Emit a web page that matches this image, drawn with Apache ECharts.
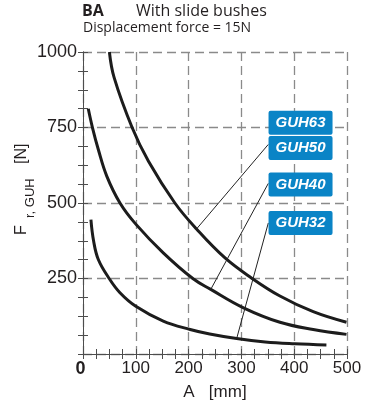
<!DOCTYPE html>
<html>
<head>
<meta charset="utf-8">
<script src="https://cdn.jsdelivr.net/npm/echarts@6/dist/echarts.min.js"></script>
<style>
  html, body { margin: 0; padding: 0; background: #fff; }
  #chart { width: 369px; height: 409px; }
</style>
</head>
<body>
<div id="chart"></div>
<script type="text/javascript">
    // curves: [A mm, F N]
    var guh63 = [[50,1000],[59,915],[93,750],[124,638],[174,500],[215,414],[269,318],[319,252],[373,192],[436,140],[499,105]];
    var guh50 = [[10,812],[18,749],[29,677],[45,589],[70,500],[100,430],[152,335],[208,250],[242,214],[304,153],[373,105],[436,81],[499,65]];
    var guh32 = [[15,445],[20,375],[29,313],[50,249],[70,203],[100,158],[152,109],[203,81],[240,66],[291,51],[345,40],[401,34],[461,30]];

    // leader lines from label boxes to curves
    var lead50 = [[351,694],[215,414]];
    var lead40 = [[351,565],[242,214]];
    var lead32 = [[351,434],[291,51]];

    // label boxes
    var labelNames = ['GUH63', 'GUH50', 'GUH40', 'GUH32'];
    var labelX = [412, 412, 412, 412];
    var labelY = [766, 682, 561, 434];

    var xTicks = [0, 100, 200, 300, 400, 500];
    var yTicks = [250, 500, 750, 1000];

    var myChart = echarts.init(document.getElementById('chart'), null, {renderer: 'canvas'});

    var axisFont = 'Liberation Sans, Arial, sans-serif';
    var frame = {show: true, lineStyle: {color: '#4d4d4d', width: 1}};
    var ticks = {show: true, inside: true, length: 5, lineStyle: {color: '#4d4d4d', width: 1}};
    var minor = {show: true, splitNumber: 4, length: 5, lineStyle: {color: '#4d4d4d', width: 1}};

    var labelData = labelNames.map(function (n, i) {
        return {name: n, value: [labelX[i], labelY[i]]};
    });

    var option = {
        animation: false,
        grid: {left: 83, right: 22, top: 52, bottom: 55},
        graphic: [
            {type: 'text', left: 82, top: 3, style: {text: 'BA', font: 'bold 16px "Open Sans"', fill: '#231f20'}},
            {type: 'text', left: 136, top: 3, style: {text: 'With slide bushes', font: '16px "Open Sans"', fill: '#231f20'}},
            {type: 'text', left: 83, top: 21, style: {text: 'Displacement force = 15N', font: '14px "Open Sans"', fill: '#231f20'}},
            {
                type: 'group', x: 0, y: 236, rotation: Math.PI / 2,
                children: [
                    {type: 'text', style: {x: 1, y: 22, text: 'F', font: '16px ' + axisFont, fill: '#231f20', verticalAlign: 'middle'}},
                    {type: 'text', style: {x: 18, y: 30, text: 'r, GUH', font: '13px ' + axisFont, fill: '#231f20', verticalAlign: 'middle'}},
                    {type: 'text', style: {x: 72, y: 22, text: '[N]', font: '16px ' + axisFont, fill: '#231f20', verticalAlign: 'middle'}}
                ]
            }
        ],
        xAxis: [
            {
                type: 'value', position: 'bottom', min: 0, max: 500, interval: 100,
                name: 'A   [mm]', nameLocation: 'middle', nameGap: 30,
                nameTextStyle: {fontFamily: axisFont, fontSize: 17, color: '#231f20'},
                axisLine: frame, axisTick: ticks, minorTick: minor,
                axisLabel: {
                    fontFamily: axisFont, fontSize: 17, color: '#231f20', margin: 6,
                    formatter: function (v) {
                        return xTicks.indexOf(v) === 0 ? '{z|0}' : String(v);
                    },
                    rich: {z: {fontFamily: axisFont, fontSize: 18, fontWeight: 'bold', color: '#231f20', padding: [0, 5, 0, 0]}}
                },
                splitLine: {show: true, lineStyle: {color: '#8a8a8a', width: 1.3, type: [9, 5]}}
            },
            {
                type: 'value', position: 'top', min: 0, max: 500, interval: 100,
                axisLine: frame, axisTick: ticks, minorTick: minor,
                axisLabel: {show: false}, splitLine: {show: false}
            }
        ],
        yAxis: [
            {
                type: 'value', position: 'left', min: 0, max: 1000, interval: 250,
                axisLine: frame, axisTick: ticks, minorTick: minor,
                axisLabel: {
                    fontFamily: axisFont, fontSize: 18, color: '#231f20', margin: 6,
                    formatter: function (v) {
                        return yTicks.indexOf(v) >= 0 ? String(v) : '';
                    }
                },
                splitLine: {show: true, lineStyle: {color: '#8a8a8a', width: 1.3, type: [9, 5]}}
            },
            {
                type: 'value', position: 'right', min: 0, max: 1000, interval: 250,
                axisLine: frame, axisTick: ticks, minorTick: minor,
                axisLabel: {show: false}, splitLine: {show: false}
            }
        ],
        series: [
            {name: 'GUH63', type: 'line', data: guh63, smooth: 0.4, showSymbol: false, symbol: 'none', lineStyle: {color: '#1c1c1c', width: 3}, z: 3},
            {name: 'GUH50', type: 'line', data: guh50, smooth: 0.4, showSymbol: false, symbol: 'none', lineStyle: {color: '#1c1c1c', width: 3}, z: 3},
            {name: 'GUH32', type: 'line', data: guh32, smooth: 0.4, showSymbol: false, symbol: 'none', lineStyle: {color: '#1c1c1c', width: 3}, z: 3},
            {type: 'line', data: lead50, symbol: 'none', lineStyle: {color: '#222', width: 1}, z: 4},
            {type: 'line', data: lead40, symbol: 'none', lineStyle: {color: '#222', width: 1}, z: 4},
            {type: 'line', data: lead32, symbol: 'none', lineStyle: {color: '#222', width: 1}, z: 4},
            {
                type: 'scatter', data: labelData, symbolSize: 0, z: 5,
                itemStyle: {opacity: 1},
                label: {
                    show: true, position: 'inside',
                    formatter: '{b}',
                    fontFamily: axisFont, fontSize: 15, fontStyle: 'italic', fontWeight: 'bold',
                    color: '#fff', backgroundColor: '#0a84c6', borderRadius: 2, opacity: 1,
                    width: 50, align: 'center', lineHeight: 16, padding: [4, 7, 4, 7]
                }
            }
        ]
    };
    myChart.setOption(option);
</script>
</body>
</html>
